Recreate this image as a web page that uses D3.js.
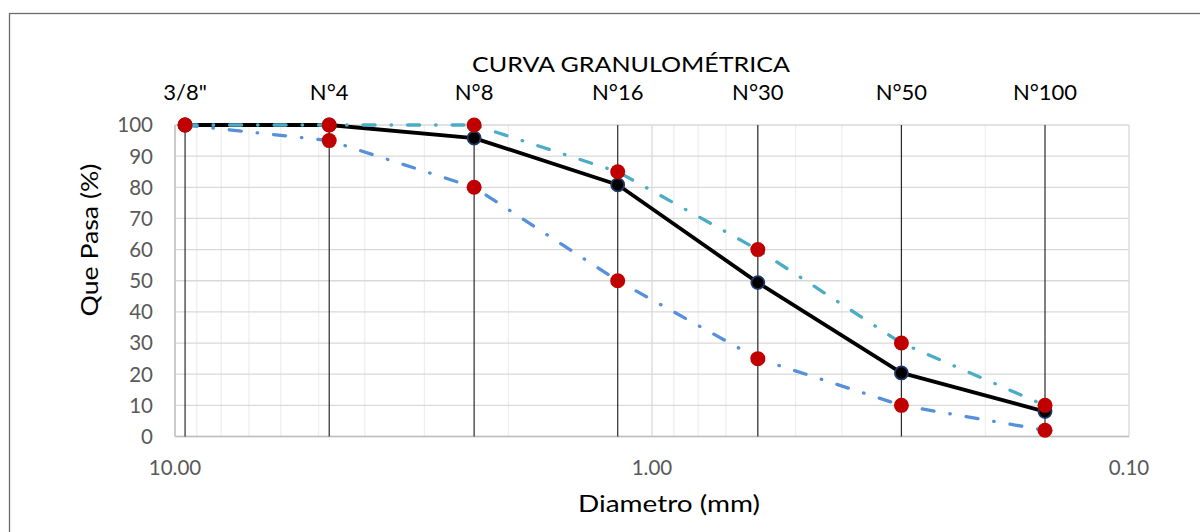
<!DOCTYPE html>
<html>
<head>
<meta charset="utf-8">
<script src="https://cdn.jsdelivr.net/npm/d3@7"></script>
<style>
  html, body { margin: 0; padding: 0; background: #fff; }
  svg { display: block; }
  text { font-family: Lato, "Open Sans", sans-serif; }
</style>
</head>
<body>
<svg id="chart" width="1200" height="532"></svg>
<script>
// ---- data ----
const sieveLabels = ['3/8"', 'N°4', 'N°8', 'N°16', 'N°30', 'N°50', 'N°100'];
const sieveDiameters = [9.525, 4.75, 2.36, 1.18, 0.6, 0.3, 0.15];
const passing = [100, 100, 95.8, 80.8, 49.4, 20.4, 8.0];
const upperLimit = [100, 100, 100, 85, 60, 30, 10];
const lowerLimit = [100, 95, 80, 50, 25, 10, 2];
const yTicks = [0, 10, 20, 30, 40, 50, 60, 70, 80, 90, 100];
const xMajorTicks = [10, 1, 0.1];
const xTickLabels = ["10.00", "1.00", "0.10"];
const titleText = "CURVA GRANULOMÉTRICA";
const xTitle = "Diametro (mm)";
const yTitle = "Que Pasa (%)";

// ---- layout ----
const svg = d3.select("#chart");
const L = 175, R = 1129, T = 125, B = 436.5;
const x = d3.scaleLog().domain([10, 0.1]).range([L, R]);
const y = d3.scaleLinear().domain([0, 100]).range([B, T]);

// outer border
svg.append("rect").attr("x", 9.5).attr("y", 13.5).attr("width", 1200).attr("height", 600)
  .attr("fill", "none").attr("stroke", "#6b6b6b").attr("stroke-width", 1.3);

// minor vertical gridlines
const minorX = [];
[1, 0.1].forEach(dec => { for (let k = 2; k <= 9; k++) minorX.push(k * dec); });
svg.append("g").selectAll("line").data(minorX).join("line")
  .attr("x1", d => x(d)).attr("x2", d => x(d)).attr("y1", T).attr("y2", B)
  .attr("stroke", "#efefef").attr("stroke-width", 1.3);
// major vertical gridlines
svg.append("g").selectAll("line").data(xMajorTicks).join("line")
  .attr("x1", d => x(d)).attr("x2", d => x(d)).attr("y1", T).attr("y2", B)
  .attr("stroke", "#d9d9d9").attr("stroke-width", 1.3);
// horizontal gridlines
svg.append("g").selectAll("line").data(yTicks).join("line")
  .attr("x1", L).attr("x2", R).attr("y1", d => y(d)).attr("y2", d => y(d))
  .attr("stroke", "#d9d9d9").attr("stroke-width", 1.3);
// axis lines
svg.append("line").attr("x1", L).attr("x2", L).attr("y1", T).attr("y2", B)
  .attr("stroke", "#bfbfbf").attr("stroke-width", 1.3);
svg.append("line").attr("x1", L).attr("x2", R).attr("y1", B).attr("y2", B)
  .attr("stroke", "#bfbfbf").attr("stroke-width", 1.3);

// sieve vertical lines
svg.append("g").selectAll("line").data(sieveDiameters).join("line")
  .attr("x1", d => x(d)).attr("x2", d => x(d)).attr("y1", T).attr("y2", B)
  .attr("stroke", "#2a2a2a").attr("stroke-width", 1.2);

// y tick labels
svg.append("g").selectAll("text").data(yTicks).join("text")
  .attr("x", 153).attr("y", d => y(d)).attr("dy", "0.36em")
  .attr("text-anchor", "end").attr("font-size", 20.5).attr("fill", "#595959")
  .text(d => d);
// x tick labels
svg.append("g").selectAll("text").data(xMajorTicks).join("text")
  .attr("x", d => x(d)).attr("y", 475)
  .attr("text-anchor", "middle").attr("font-size", 20.5).attr("fill", "#595959")
  .text((d, i) => xTickLabels[i]);
// sieve labels on top
svg.append("g").selectAll("text").data(sieveDiameters).join("text")
  .attr("x", d => x(d)).attr("y", 100)
  .attr("text-anchor", "middle").attr("font-size", 22).attr("fill", "#000")
  .text((d, i) => sieveLabels[i]);

// title
svg.append("text").attr("x", 631).attr("y", 72).attr("text-anchor", "middle")
  .attr("font-size", 21.5).attr("fill", "#000")
  .attr("textLength", 318).attr("lengthAdjust", "spacingAndGlyphs").text(titleText);
// axis titles
svg.append("text").attr("x", 669).attr("y", 512).attr("text-anchor", "middle")
  .attr("font-size", 23.5).attr("fill", "#000")
  .attr("textLength", 182).attr("lengthAdjust", "spacingAndGlyphs").text(xTitle);
svg.append("text").attr("transform", "translate(98,240) rotate(-90)")
  .attr("text-anchor", "middle").attr("font-size", 23.5).attr("fill", "#000")
  .attr("textLength", 153).attr("lengthAdjust", "spacingAndGlyphs").text(yTitle);

// series
const line = d3.line().x(d => x(d[0])).y(d => y(d[1]));
const pts = vals => sieveDiameters.map((d, i) => [d, vals[i]]);

function series(vals, color, dash, width, markerFill, markerStroke, r, sw) {
  const g = svg.append("g");
  g.append("path").datum(pts(vals)).attr("d", line)
    .attr("fill", "none").attr("stroke", color).attr("stroke-width", width)
    .attr("stroke-dasharray", dash).attr("stroke-linecap", dash ? "round" : "butt")
    .attr("stroke-linejoin", "round");
  g.selectAll("circle").data(pts(vals)).join("circle")
    .attr("cx", d => x(d[0])).attr("cy", d => y(d[1])).attr("r", r)
    .attr("fill", markerFill).attr("stroke", markerStroke).attr("stroke-width", sw);
}
series(passing, "#000", null, 3.8, "#000", "#1f3864", 6.5, 1.8);
series(lowerLimit, "#5590d9", "12,16,0.5,16", 3.3, "#c00000", "none", 7.5, 0);
series(upperLimit, "#4bacc6", "12,16,0.5,16", 3.3, "#c00000", "none", 7.5, 0);
</script>
</body>
</html>
